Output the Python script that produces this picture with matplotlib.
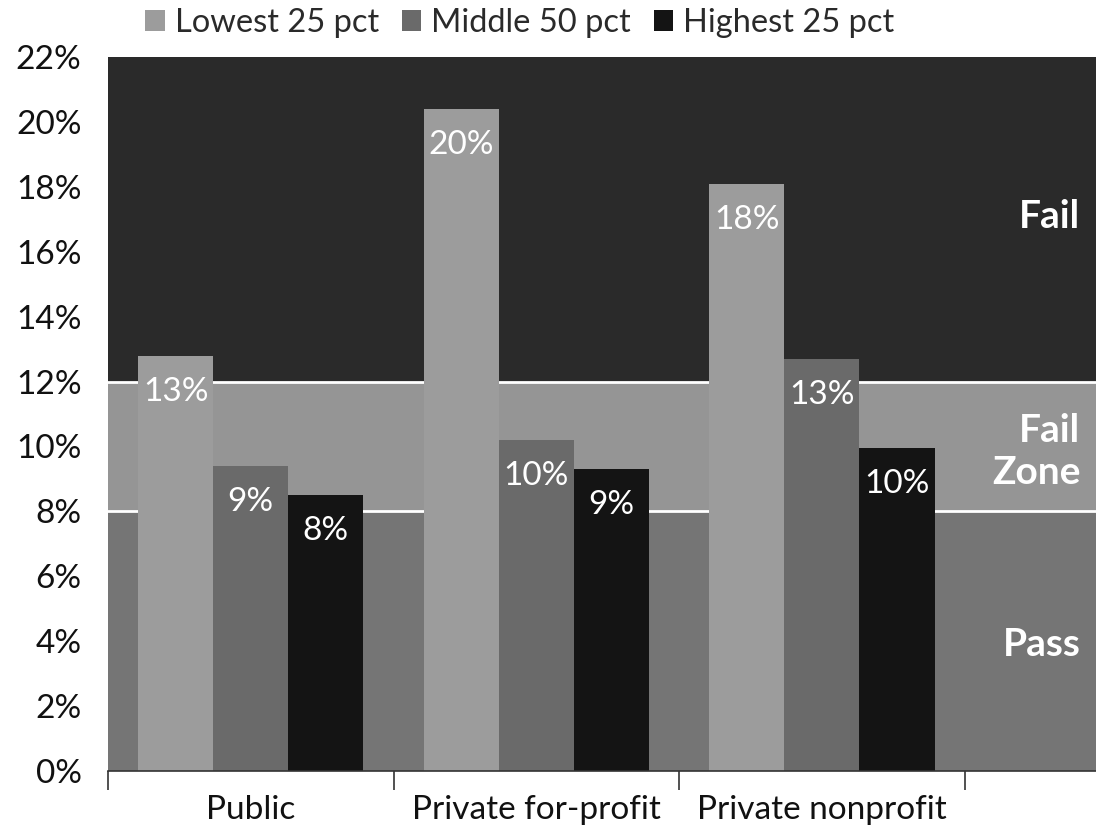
import matplotlib
matplotlib.use("Agg")
import matplotlib.pyplot as plt
import numpy as np

plt.rcParams['font.family'] = ['Lato', 'DejaVu Sans']

categories = ["Public", "Private for-profit", "Private nonprofit"]
series_names = ["Lowest 25 pct", "Middle 50 pct", "Highest 25 pct"]
lowest = [12.8, 20.4, 18.1]
middle = [9.4, 10.2, 12.7]
highest = [8.5, 9.3, 9.95]
yticks = [0, 2, 4, 6, 8, 10, 12, 14, 16, 18, 20, 22]

# zone thresholds (percent) and their labels
pass_limit = 8
fail_limit = 12
zone_labels = [("Fail", 17.1), ("Fail\nZone", 9.85), ("Pass", 3.9)]

bar_colors = ["#9c9c9c", "#6a6a6a", "#141414"]
pass_color = "#757575"
zone_color = "#959595"
fail_color = "#2a2a2a"

fig = plt.figure(figsize=(10.96, 8.36), dpi=100)
ax = fig.add_axes([0.0985, 0.0778, 0.9015, 0.854])

x = np.arange(len(categories))
xmax = 2.96
ax.set_xlim(-0.5, xmax)
ax.set_ylim(0, 22)

# background zones
ax.axhspan(0, pass_limit, color=pass_color, zorder=0, lw=0)
ax.axhspan(pass_limit, fail_limit, color=zone_color, zorder=0, lw=0)
ax.axhspan(fail_limit, 22, color=fail_color, zorder=0, lw=0)
ax.axhline(pass_limit, color="white", lw=2, zorder=1)
ax.axhline(fail_limit, color="white", lw=2, zorder=1)

width = 0.263
offsets = [-width, 0, width]
for vals, off, col, name in zip([lowest, middle, highest], offsets, bar_colors, series_names):
    bars = ax.bar(x + off, vals, width, color=col, label=name, zorder=2, lw=0)
    for b, v in zip(bars, vals):
        ax.annotate(f"{v:.0f}%", (b.get_x() + b.get_width() / 2, v),
                    xytext=(0, -36), textcoords="offset pixels",
                    ha="center", va="center", color="white", fontsize=24, zorder=3)

for text, yv in zone_labels:
    ax.text(xmax - 0.055, yv, text, ha="right", va="center", color="white",
            fontsize=28, fontweight="bold", linespacing=1.25, zorder=3)

ax.set_yticks(yticks)
ax.set_yticklabels([f"{t}%" for t in yticks], fontsize=24, color="#111111")
ax.tick_params(axis="y", length=0, pad=19)

# category labels centered in groups, ticks at group boundaries
ax.set_xticks([-0.5, 0.5, 1.5, 2.5])
ax.set_xticklabels([])
ax.tick_params(axis="x", length=14, width=1.2, color="#333333", direction="out")
for xi, c in zip(x, categories):
    ax.text(xi, -1.2, c, ha="center", va="center", fontsize=24, color="#111111")

for s in ["top", "right", "left"]:
    ax.spines[s].set_visible(False)
ax.spines["bottom"].set_color("#333333")
ax.spines["bottom"].set_linewidth(1.2)

ax.legend(loc="center", bbox_to_anchor=(0.417, 1.048), ncol=3, frameon=False,
          fontsize=23.5, handlelength=0.6, handleheight=0.6, handletextpad=0.3,
          columnspacing=0.7, labelcolor="#2a2a2a")

fig.savefig("out.png", dpi=100)
